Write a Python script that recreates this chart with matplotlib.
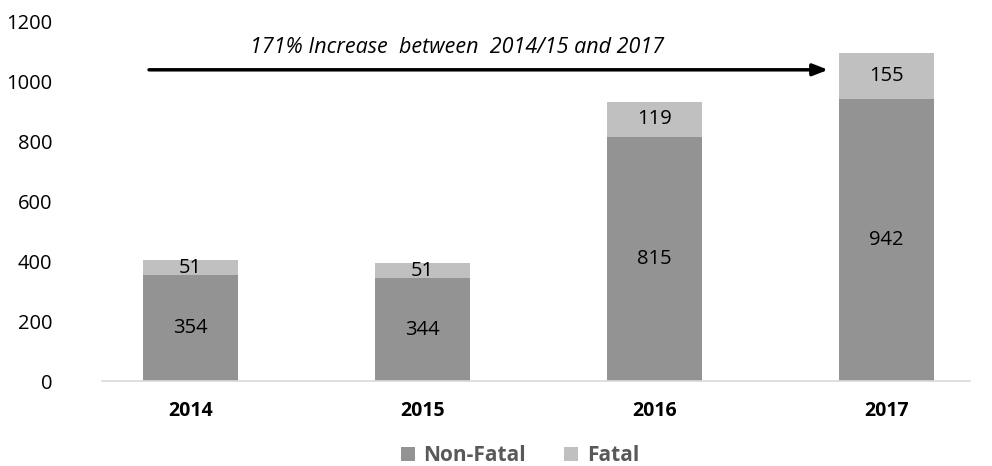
import matplotlib
matplotlib.use('Agg')
import matplotlib.pyplot as plt
import numpy as np

# Data
years = ['2014', '2015', '2016', '2017']
non_fatal = [354, 344, 815, 942]
fatal = [51, 51, 119, 155]

plt.rcParams['font.family'] = ['Open Sans', 'DejaVu Sans']

fig = plt.figure(figsize=(9.92, 4.66), dpi=100)
ax = fig.add_axes([0.103, 0.182, 0.875, 0.771])

x = np.arange(len(years))
w = 0.41
b1 = ax.bar(x, non_fatal, w, color='#939393', label='Non-Fatal')
b2 = ax.bar(x, fatal, w, bottom=non_fatal, color='#c0c0c0', label='Fatal')

for i in range(len(years)):
    ax.text(x[i], non_fatal[i] / 2, str(non_fatal[i]), ha='center', va='center', fontsize=14.5)
    ax.text(x[i], non_fatal[i] + fatal[i] / 2, str(fatal[i]), ha='center', va='center', fontsize=14.5)

ax.set_xlim(-0.38, 3.36)
ax.set_ylim(0, 1200)
ax.set_yticks(range(0, 1201, 200))
ax.set_xticks(x)
ax.set_xticklabels(years, fontweight='bold', fontsize=14)
ax.tick_params(axis='y', length=0, labelsize=14.5, pad=36)
ax.tick_params(axis='x', length=0, pad=14)
for s in ['top', 'right', 'left']:
    ax.spines[s].set_visible(False)
ax.spines['bottom'].set_color('#d9d9d9')
ax.spines['bottom'].set_linewidth(1.2)

# Arrow and annotation
ax.annotate('', xy=(2.76, 1040), xytext=(-0.19, 1040),
            arrowprops=dict(arrowstyle='-|>,head_length=0.9,head_width=0.35', color='black', lw=2.5))
ax.text(1.15, 1113, '171% Increase  between  2014/15 and 2017', ha='center', va='center',
        fontsize=15.5, style='italic')

fig.legend(handles=[b1, b2], loc='center', bbox_to_anchor=(0.524, 0.022), ncol=2, frameon=False,
           prop={'weight': 'bold', 'size': 15}, labelcolor='#595959', handlelength=0.7,
           handleheight=0.7, handletextpad=0.4, columnspacing=1.8)

fig.savefig('out.png', dpi=100)
